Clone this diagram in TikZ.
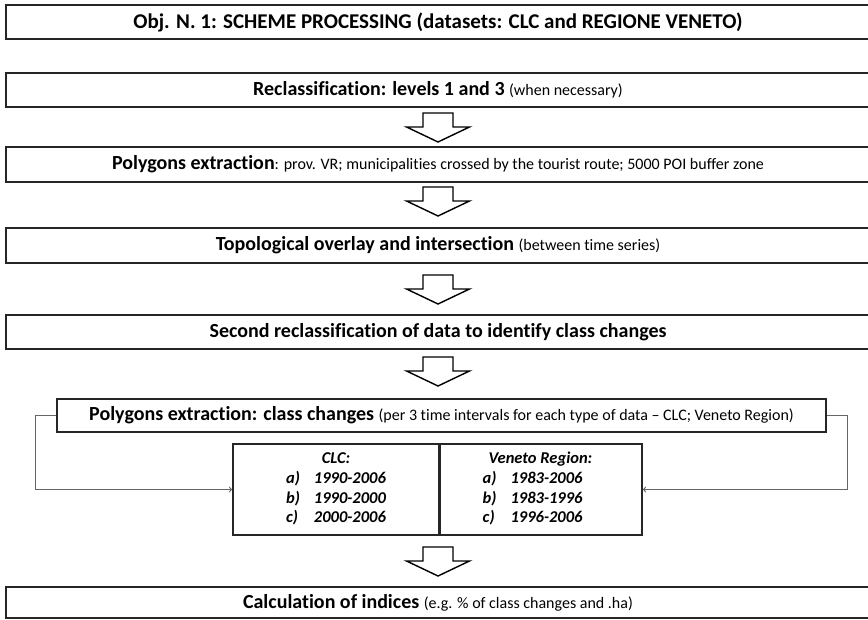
\documentclass[tikz,border=0pt]{standalone}
\usepackage{fontspec}
\setmainfont{Carlito}[Ligatures={TeX,NoCommon}]
\usetikzlibrary{calc}

\tikzset{
  box/.style={draw=black!85, line width=1.6pt, fill=white, inner sep=0pt,
    minimum width=864pt, minimum height=34pt, font=\fontsize{20}{23}\selectfont},
  cell/.style={draw=black!85, line width=1.6pt, fill=white, inner sep=0pt,
    minimum height=91pt, font=\fontsize{16.5}{19.7}\selectfont\bfseries\itshape},
  link/.style={draw=black!60, line width=1.1pt, ->},
  blockarrow/.style={draw=black, line width=1.4pt, fill=white, line join=miter}
}
% hollow down arrow, #1 = top centre
\newcommand{\downblock}[1]{%
  \draw[blockarrow] (#1) ++(-15,0) -- ++(30,0) -- ++(0,14) -- ++(16.5,0)
    -- ++(-31.5,15) -- ++(-31.5,-15) -- ++(16.5,0) -- cycle;}
\newcommand{\sm}[1]{{\mdseries\fontsize{16}{19}\selectfont #1}}

\begin{document}
\begin{tikzpicture}[x=1pt,y=-1pt]
\useasboundingbox (0,0) rectangle (868,620);

\node[box, font=\fontsize{21}{24}\selectfont\bfseries] (obj) at (438,22)
  {Obj. N. 1: SCHEME PROCESSING (datasets: CLC and REGIONE VENETO)};
\node[box] (recl) at (438,90)
  {\textbf{Reclassification: levels 1 and 3} \sm{(when necessary)}};
\node[box, minimum height=35pt] (extr) at (438,164.5)
  {\textbf{Polygons extraction}\sm{: prov. VR; municipalities crossed by the tourist route; 5000 POI buffer zone}};
\node[box, minimum height=35pt] (topo) at (438,245.5)
  {\textbf{Topological overlay and intersection} \sm{(between time series)}};
\node[box] (second) at (438,332)
  {\textbf{Second reclassification of data to identify class changes}};
\node[box, minimum width=769pt, minimum height=33pt] (chg) at (441.5,415.5)
  {\textbf{Polygons extraction: class changes} \sm{(per 3 time intervals for each type of data -- CLC; Veneto Region)}};

\node[cell, minimum width=206pt] (clc) at (336,489.5)
  {\begin{tabular}{@{}l@{\hspace{14pt}}l@{}}
   \multicolumn{2}{c}{CLC:}\\
   a) & 1990-2006\\
   b) & 1990-2000\\
   c) & 2000-2006
   \end{tabular}};
\node[cell, minimum width=203pt] (ven) at (540.5,489.5)
  {\begin{tabular}{@{}l@{\hspace{14pt}}l@{}}
   \multicolumn{2}{c}{Veneto Region:}\\
   a) & 1983-2006\\
   b) & 1983-1996\\
   c) & 1996-2006
   \end{tabular}};
\draw[black!85, line width=2.8pt] (clc.north east) -- (clc.south east);

\node[box, minimum height=31pt] (calc) at (438,602.5)
  {\textbf{Calculation of indices} \sm{(e.g. \% of class changes and .ha)}};

% flow arrows
\downblock{438,113}
\downblock{438,187}
\downblock{438,275}
\downblock{438,357}
\downblock{438,547}

% side links to the table
\draw[link] (chg.west) -- ++(-21,0) |- (clc.west);
\draw[link] (chg.east) -- ++(21,0) |- (ven.east);
\end{tikzpicture}
\end{document}
